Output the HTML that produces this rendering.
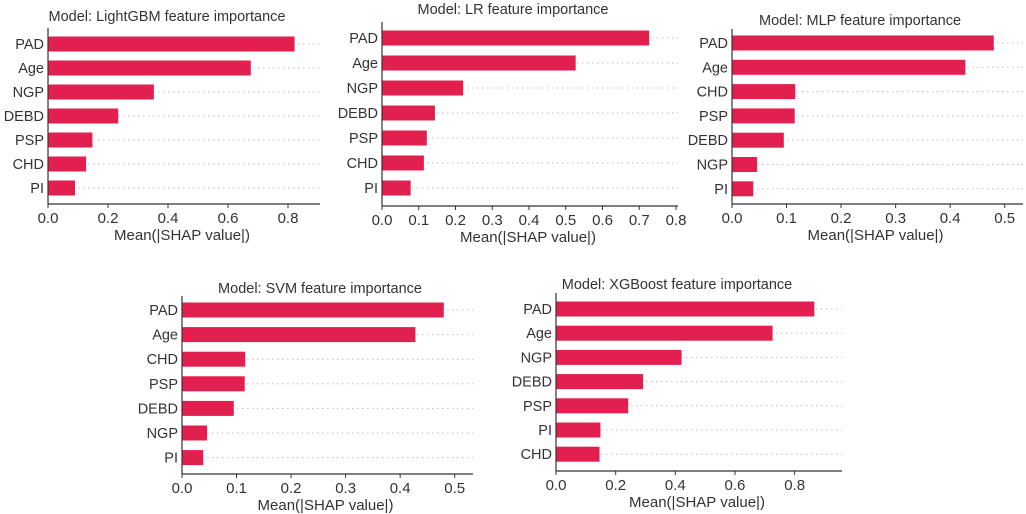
<!DOCTYPE html>
<html><head><meta charset="utf-8"><style>
html,body{margin:0;padding:0;background:#fff;}
svg{display:block;font-family:"Liberation Sans",sans-serif;}
</style></head><body>
<svg id="fig" width="1026" height="514" viewBox="0 0 1026 514"></svg>
<script>
const lgbmFeatures=["PAD","Age","NGP","DEBD","PSP","CHD","PI"];
const lgbmValues=[0.822,0.676,0.353,0.234,0.148,0.127,0.09];
const lgbmTicks=[0,0.2,0.4,0.6,0.8];
const lrFeatures=["PAD","Age","NGP","DEBD","PSP","CHD","PI"];
const lrValues=[0.727,0.527,0.221,0.144,0.122,0.114,0.078];
const lrTicks=[0,0.1,0.2,0.3,0.4,0.5,0.6,0.7,0.8];
const mlpFeatures=["PAD","Age","CHD","PSP","DEBD","NGP","PI"];
const mlpValues=[0.48,0.428,0.116,0.115,0.095,0.046,0.039];
const mlpTicks=[0,0.1,0.2,0.3,0.4,0.5];
const svmFeatures=["PAD","Age","CHD","PSP","DEBD","NGP","PI"];
const svmValues=[0.48,0.428,0.116,0.115,0.095,0.046,0.039];
const svmTicks=[0,0.1,0.2,0.3,0.4,0.5];
const xgbFeatures=["PAD","Age","NGP","DEBD","PSP","PI","CHD"];
const xgbValues=[0.866,0.726,0.421,0.292,0.242,0.149,0.146];
const xgbTicks=[0,0.2,0.4,0.6,0.8];

const NS="http://www.w3.org/2000/svg";
const svg=document.getElementById("fig");
function mk(tag,attrs,parent){const e=document.createElementNS(NS,tag);for(const k in attrs)e.setAttribute(k,attrs[k]);(parent||svg).appendChild(e);return e;}

function panel(key,model,feats,vals,ticks,L){
  const g=mk("g",{});
  
  
  const x=v=>L.x0+v*L.ppu;
  const y=i=>L.yTop+i*L.step;
  const t=mk("text",{x:L.tx,y:L.ty,"text-anchor":"middle","font-size":"14.5",fill:"#333"},g);
  t.textContent="Model: "+model+" feature importance";
  
  
  feats.forEach((f,i)=>{
    const gl=mk("line",{x1:x(0),x2:L.xr,y1:y(i),y2:y(i),stroke:"#bbb","stroke-width":"1","stroke-dasharray":"1.5,3.5"},g);
    
    
    const b=mk("rect",{x:x(0),y:y(i)-7.5,width:Math.max(0,x(vals[i])-x(0)),height:15,fill:"#e2204f"},g);
    
    
    const lb=mk("text",{x:x(0)-4,y:y(i)+5,"text-anchor":"end","font-size":"14.5",fill:"#333"},g);
    lb.textContent=f;
    
    
  });
  const ay=mk("line",{x1:x(0),x2:x(0),y1:L.axTop,y2:L.yb,stroke:"#333","stroke-width":"1.2"},g);
  
  
  const ax=mk("line",{x1:x(0),x2:L.xr,y1:L.yb,y2:L.yb,stroke:"#333","stroke-width":"1.2"},g);
  
  
  ticks.forEach(v=>{
    const tk=mk("line",{x1:x(v),x2:x(v),y1:L.yb,y2:L.yb+4,stroke:"#333","stroke-width":"1"},g);
    
    
    const tl=mk("text",{x:x(v),y:L.yb+19,"text-anchor":"middle","font-size":"15",fill:"#333"},g);
    tl.textContent=v.toFixed(1);
    
    
  });
  const xt=mk("text",{x:x(0)+(L.xr-x(0))/2-2,y:L.yb+36,"text-anchor":"middle","font-size":"15",fill:"#333"},g);
  xt.textContent="Mean(|SHAP value|)";
  
  
}
panel("lightgbm","LightGBM",lgbmFeatures,lgbmValues,lgbmTicks,{x0:48,ppu:300,xr:320,yTop:44,step:24,yb:204,axTop:28,tx:167,ty:21});
panel("lr","LR",lrFeatures,lrValues,lrTicks,{x0:382,ppu:367.5,xr:678,yTop:38,step:25,yb:206,axTop:22,tx:513,ty:14});
panel("mlp","MLP",mlpFeatures,mlpValues,mlpTicks,{x0:732,ppu:545.4,xr:1023,yTop:43,step:24.3,yb:204,axTop:29,tx:860,ty:25});
panel("svm","SVM",svmFeatures,svmValues,svmTicks,{x0:182,ppu:545.4,xr:473,yTop:310,step:24.6,yb:474,axTop:296,tx:320,ty:293});
panel("xgboost","XGBoost",xgbFeatures,xgbValues,xgbTicks,{x0:556,ppu:298.3,xr:842,yTop:309,step:24.2,yb:471,axTop:293,tx:677,ty:289});
</script>
</body></html>
